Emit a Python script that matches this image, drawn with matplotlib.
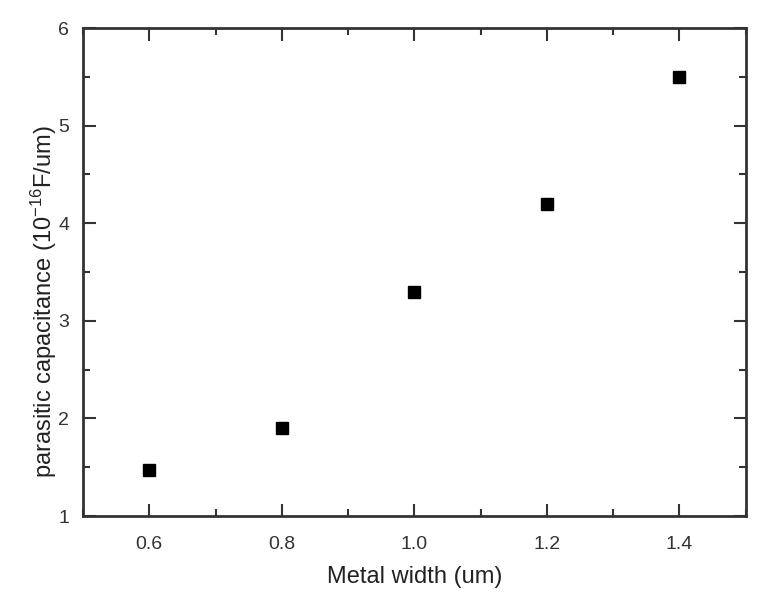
import matplotlib
matplotlib.use("Agg")
import matplotlib.pyplot as plt
from matplotlib.ticker import MultipleLocator

plt.rcParams['font.family'] = ['Liberation Sans', 'DejaVu Sans']
plt.rcParams['mathtext.fontset'] = 'custom'
plt.rcParams['mathtext.rm'] = 'Liberation Sans'
plt.rcParams['mathtext.it'] = 'Liberation Sans'

metal_width = [0.6, 0.8, 1.0, 1.2, 1.4]
capacitance = [1.47, 1.90, 3.30, 4.20, 5.50]
x_ticks = [0.6, 0.8, 1.0, 1.2, 1.4]
x_tick_labels = ["0.6", "0.8", "1.0", "1.2", "1.4"]
y_ticks = [1, 2, 3, 4, 5, 6]

fig = plt.figure(figsize=(7.68, 5.98), dpi=100)
ax = fig.add_axes([0.108, 0.137, 0.863, 0.816])
ax.plot(metal_width, capacitance, linestyle='none', marker='s', markersize=8,
        color='black')
ax.set_xlim(0.5, 1.5)
ax.set_ylim(1, 6)
ax.set_xticks(x_ticks)
ax.set_xticklabels(x_tick_labels)
ax.set_yticks(y_ticks)
ax.xaxis.set_minor_locator(MultipleLocator(0.1))
ax.yaxis.set_minor_locator(MultipleLocator(0.5))
ax.tick_params(which='both', direction='in', top=True, right=True,
               labeltop=False, labelright=False, color='#333333', width=1.5)
ax.tick_params(which='major', length=9, labelsize=14, labelcolor='#333333')
ax.tick_params(axis='x', which='major', pad=14)
ax.tick_params(axis='y', which='major', pad=10)
ax.tick_params(which='minor', length=5)
for s in ax.spines.values():
    s.set_linewidth(2)
    s.set_color('#333333')
ax.set_xlabel('Metal width (um)', fontsize=17, color='#222222', labelpad=10)
ax.set_ylabel(r'parasitic capacitance (10$^{\mathregular{-16}}$F/um)', fontsize=17,
              color='#222222')
ax.yaxis.set_label_coords(-0.036, 0.44)
fig.savefig('out.png', dpi=100)
